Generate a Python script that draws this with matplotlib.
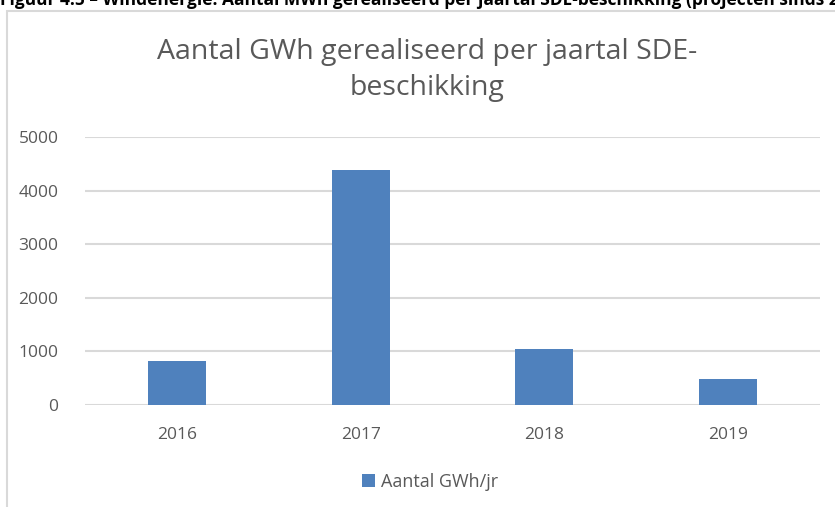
import matplotlib.pyplot as plt
from matplotlib.patches import Rectangle

jaren = ['2016', '2017', '2018', '2019']
gwh = [830, 4380, 1050, 490]
reeks = 'Aantal GWh/jr'
titel = 'Aantal GWh gerealiseerd per jaartal SDE-\nbeschikking'
bijschrift = 'Figuur 4.5 – Windenergie: Aantal MWh gerealiseerd per jaartal SDE-beschikking (projecten sinds 2016)'

plt.rcParams['font.family'] = ['Open Sans', 'DejaVu Sans']
grijs = '#595959'

fig = plt.figure(figsize=(8.35, 5.07), dpi=100)

# bijschrift boven, valt half buiten beeld zoals in het origineel
fig.text(0.0, 1 - 5 / 507, bijschrift, fontsize=12.5, fontweight='bold',
         color='black', ha='left', va='baseline')

# kader van de grafiek
fig.patches.append(Rectangle((7 / 835, -0.1), 1.2, 1 - 11 / 507 + 0.1,
                             transform=fig.transFigure, fill=False,
                             edgecolor='#d9d9d9', linewidth=1.5))

ax = fig.add_axes([85 / 835, 1 - 405 / 507, 735 / 835, 268 / 507])
x = range(len(jaren))
ax.bar(x, gwh, width=0.316, color='#4f81bd', label=reeks, zorder=3)

ax.set_xlim(-0.5, len(jaren) - 0.5)
ax.set_ylim(0, 5000)
ax.set_yticks(range(0, 5001, 1000))
ax.set_xticks(list(x))
ax.set_xticklabels(jaren)
ax.grid(axis='y', color='#d9d9d9', linewidth=1.5, zorder=0)
ax.tick_params(axis='both', length=0, labelsize=12.5, colors=grijs)
ax.tick_params(axis='x', pad=16)
ax.tick_params(axis='y', pad=19)
for s in ax.spines.values():
    s.set_visible(False)

fig.text(0.512, 1 - 70 / 507, titel, fontsize=20.5, color=grijs,
         ha='center', va='center', linespacing=1.35)

fig.legend(loc='center', bbox_to_anchor=(0.515, 1 - 482 / 507), frameon=False,
           fontsize=13, labelcolor=grijs, handlelength=0.7, handleheight=0.7,
           handletextpad=0.35)

fig.savefig('out.png', dpi=100)
